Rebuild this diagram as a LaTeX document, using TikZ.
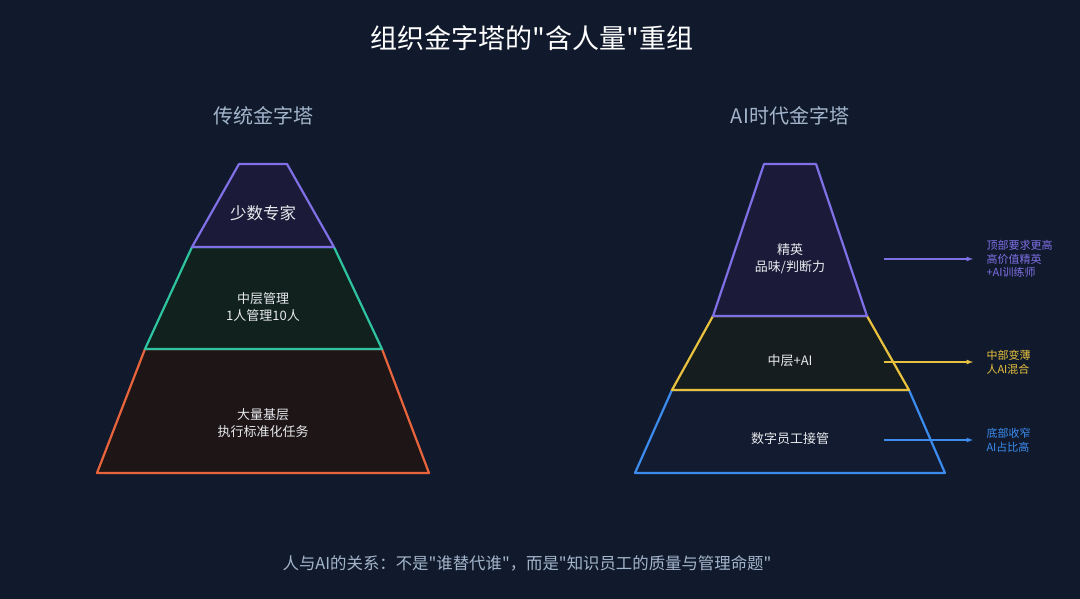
\documentclass[tikz,border=0pt]{standalone}
\usepackage{fontspec}
\setmainfont{Noto Sans CJK SC}[Ligatures=TeXOff]
\usetikzlibrary{positioning}
\definecolor{bgnavy}{HTML}{111A2C}
\definecolor{txtwhite}{HTML}{E8EAEE}
\definecolor{subgray}{HTML}{A3B5CC}
\definecolor{cpurple}{HTML}{7F70E6}
\definecolor{cteal}{HTML}{2EC4A0}
\definecolor{corange}{HTML}{E8643C}
\definecolor{cyellow}{HTML}{E8C23E}
\definecolor{cblue}{HTML}{3C8CF0}
\definecolor{fpurple}{HTML}{1B1A38}
\definecolor{fgreen}{HTML}{11211D}
\definecolor{fbrown}{HTML}{1E1517}
\definecolor{folive}{HTML}{161D1E}
\definecolor{fblue}{HTML}{121B2F}
\begin{document}
\begin{tikzpicture}[x=1pt,y=-1pt,>=latex,
every node/.style={text=txtwhite,align=center,font=\fontsize{13}{17}\selectfont},
layer/.style={line width=2.2pt,line join=round},
note/.style={anchor=west,align=left,font=\fontsize{11}{13.6}\selectfont},
notearrow/.style={->,line width=1.2pt}]

\fill[bgnavy] (0,0) rectangle (1080,599);
\useasboundingbox (0,0) rectangle (1080,599);

\node[font=\fontsize{27}{31}\selectfont,text=white] (title) at (532,38) {组织金字塔的"含人量"重组};
\node[font=\fontsize{20}{24}\selectfont,text=subgray] (oldhead) at (263,116) {传统金字塔};
\node[font=\fontsize{20}{24}\selectfont,text=subgray] (newhead) at (790,116) {AI时代金字塔};

% traditional pyramid
\coordinate (lt1) at (239,164);
\coordinate (lt2) at (287,164);
\coordinate (la1) at (192,247);
\coordinate (la2) at (334,247);
\coordinate (lb1) at (145,349);
\coordinate (lb2) at (382,349);
\coordinate (lc1) at (97,473);
\coordinate (lc2) at (429,473);

\filldraw[layer,draw=corange,fill=fbrown] (lb1) -- (lb2) -- (lc2) -- (lc1) -- cycle;
\filldraw[layer,draw=cteal,fill=fgreen] (la1) -- (la2) -- (lb2) -- (lb1) -- cycle;
\filldraw[layer,draw=cpurple,fill=fpurple] (lt1) -- (lt2) -- (la2) -- (la1) -- cycle;

\node[font=\fontsize{16.5}{20}\selectfont] (expert) at (263,213) {少数专家};
\node (middle) at (263,307.5) {中层管理\\1人管理10人};
\node (base) at (263,423.5) {大量基层\\执行标准化任务};

% AI era pyramid
\coordinate (rt1) at (764,164);
\coordinate (rt2) at (816,164);
\coordinate (ra1) at (713,316);
\coordinate (ra2) at (867,316);
\coordinate (rb1) at (672,390);
\coordinate (rb2) at (909,390);
\coordinate (rc1) at (635,473);
\coordinate (rc2) at (945,473);

\filldraw[layer,draw=cblue,fill=fblue] (rb1) -- (rb2) -- (rc2) -- (rc1) -- cycle;
\filldraw[layer,draw=cyellow,fill=folive] (ra1) -- (ra2) -- (rb2) -- (rb1) -- cycle;
\filldraw[layer,draw=cpurple,fill=fpurple] (rt1) -- (rt2) -- (ra2) -- (ra1) -- cycle;

\node (elite) at (790,258.5) {精英\\品味/判断力};
\node (hybrid) at (790,361) {中层+AI};
\node (digital) at (790,439) {数字员工接管};

% side notes
\coordinate (sa) at (884,259);
\coordinate (ea) at (973,259);
\coordinate (sb) at (884,362);
\coordinate (eb) at (973,362);
\coordinate (sc) at (884,440);
\coordinate (ec) at (973,440);

\node[note,text=cpurple,right=10pt of ea] (na) {顶部要求更高\\高价值精英\\+AI训练师};
\node[note,text=cyellow,right=10pt of eb] (nb) {中部变薄\\人AI混合};
\node[note,text=cblue,right=10pt of ec] (nc) {底部收窄\\AI占比高};

\draw[notearrow,cpurple] (sa) -- (ea);
\draw[notearrow,cyellow] (sb) -- (eb);
\draw[notearrow,cblue] (sc) -- (ec);

\node[font=\fontsize{16.4}{20}\selectfont,text=subgray] (summary) at (527,563) {人与AI的关系：不是"谁替代谁"，而是"知识员工的质量与管理命题"};
\end{tikzpicture}
\end{document}
